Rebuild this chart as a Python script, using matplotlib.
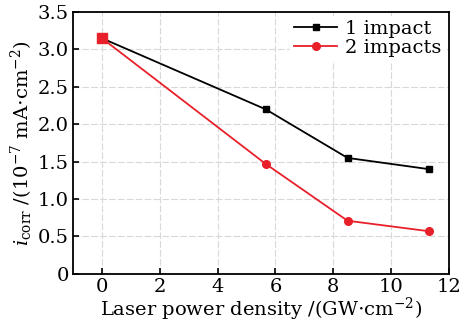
import matplotlib.pyplot as plt
from matplotlib.ticker import FuncFormatter

plt.rcParams['font.family'] = ['DejaVu Serif']
plt.rcParams['mathtext.fontset'] = 'dejavuserif'

# データ
power = [0, 5.66, 8.49, 11.3]
one_impact = [3.15, 2.2, 1.55, 1.4]
two_impacts = [3.15, 1.47, 0.71, 0.57]

fig = plt.figure(figsize=(4.62, 3.26), dpi=100)
ax = fig.add_axes([0.158, 0.16, 0.814, 0.803])

ax.plot(power, one_impact, color='black', marker='s', markersize=5, lw=1.3, label='1 impact')
ax.plot(power, two_impacts, color='#e8202a', marker='o', markersize=5.5, lw=1.3,
        markevery=[1, 2, 3], label='2 impacts')
ax.plot(power[:1], two_impacts[:1], color='#e8202a', marker='s', markersize=6.5, lw=0)

ax.set_xlim(-1, 12)
ax.set_ylim(0, 3.5)
ax.set_xticks(range(0, 13, 2))
ax.set_yticks([i * 0.5 for i in range(8)])
ax.yaxis.set_major_formatter(FuncFormatter(lambda v, p: '0' if v == 0 else f'{v:.1f}'))
ax.grid(True, color='#d8d8d8', lw=0.8, ls=(0, (6, 2)))
ax.set_axisbelow(True)
ax.tick_params(direction='in', labelsize=14, length=4, width=1.2, pad=3)
for s in ax.spines.values():
    s.set_linewidth(1.3)

ax.set_xlabel(r'Laser power density /(GW$\cdot$cm$^{-2}$)', fontsize=14, labelpad=0)
ax.set_ylabel(r'$i_{\mathrm{corr}}$ /(10$^{-7}$ mA$\cdot$cm$^{-2}$)', fontsize=14, labelpad=2)
leg = ax.legend(loc='upper right', fontsize=14, frameon=True, handlelength=2.2,
                borderaxespad=0.2, labelspacing=0.05, handletextpad=0.4,
                fancybox=False, borderpad=0.2)
leg.get_frame().set_edgecolor('none')
leg.get_frame().set_alpha(1)

plt.savefig('out.png', dpi=100)
